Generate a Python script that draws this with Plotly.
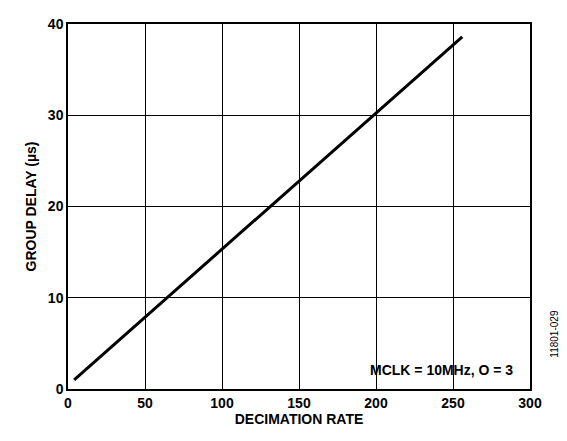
import plotly.graph_objects as go

decimation = [4, 256]
group_delay = [1.0, 38.6]
x_ticks = [0, 50, 100, 150, 200, 250, 300]
y_ticks = [0, 10, 20, 30, 40]

fig = go.Figure(go.Scatter(x=decimation, y=group_delay, mode="lines",
                           line=dict(color="black", width=3), showlegend=False))
ax = dict(showline=True, linecolor="black", linewidth=1.5, mirror=True,
          showgrid=True, gridcolor="black", gridwidth=1, zeroline=False, automargin=False,
          ticks="", tickfont=dict(family="Liberation Sans", size=14, color="black"))
fig.update_xaxes(range=[0, 300], tickvals=x_ticks, ticktext=[f"<b>{v}</b>" for v in x_ticks], **ax,
                 title=dict(text="<b>DECIMATION RATE</b>", font=dict(family="Liberation Sans", size=14, color="black"), standoff=5))
fig.update_yaxes(range=[0, 40], tickvals=y_ticks, ticktext=[f"<b>{v}</b>" for v in y_ticks], **ax,
                 title=dict(text="<b>GROUP DELAY (µs)</b>", font=dict(family="Liberation Sans", size=14, color="black"), standoff=8))
fig.update_layout(width=567, height=441, margin=dict(l=60, r=45, t=16, b=60),
                  plot_bgcolor="white", paper_bgcolor="white",
                  font=dict(family="Liberation Sans"))
fig.add_annotation(x=290, y=1.0, xref="x", yref="y", xanchor="right", yanchor="bottom",
                   text="<b>MCLK = 10MHz, O = 3</b>", showarrow=False,
                   font=dict(family="Liberation Sans", size=14, color="black"))
fig.add_annotation(x=1.07, y=0.08, xref="paper", yref="paper", text="11801-029",
                   textangle=-90, showarrow=False, font=dict(family="Liberation Sans", size=10, color="black"))
fig.write_html("out.html")
